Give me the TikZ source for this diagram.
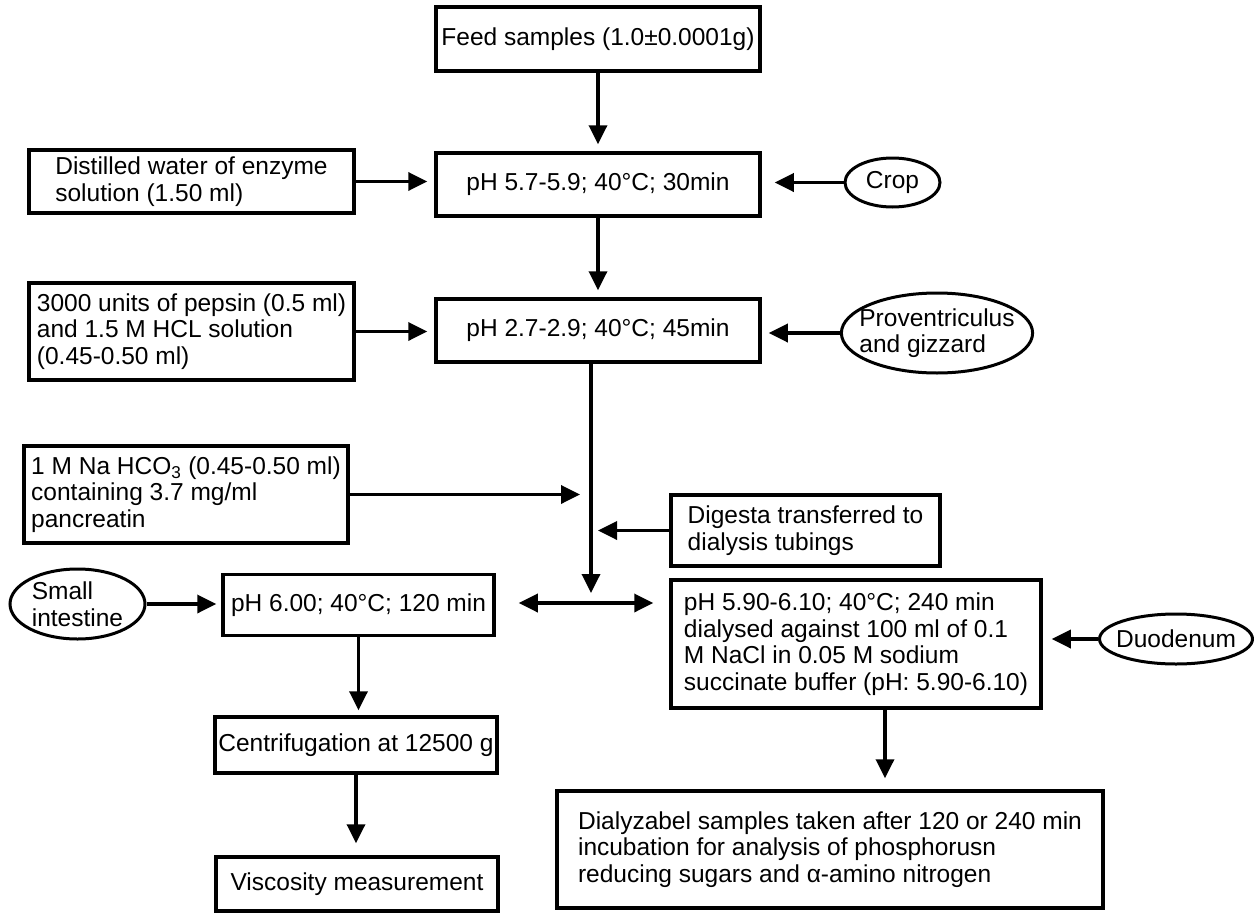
\documentclass[tikz,border=0pt]{standalone}
\usepackage{fontspec}
\setmainfont{Liberation Sans}
\usetikzlibrary{arrows.meta,calc,shapes.geometric,positioning}

\begin{document}
\begin{tikzpicture}[x=1pt,y=-1pt,
    >={Triangle[length=19pt,width=18pt]},
    proc/.style={draw, line width=3.5pt, inner sep=0pt, align=left},
    organ/.style={draw, ellipse, line width=3pt, inner xsep=-10pt, inner ysep=0pt, align=left},
    flow/.style={->, line width=3.5pt, shorten >=7pt}]
    \useasboundingbox (0,0) rectangle (1254,913);
    {\fontsize{24.5}{26.5}\selectfont
      \node(feed) at (598,39) [proc, minimum width=324pt, minimum height=64pt] {Feed samples (1.0±0.0001g)};

      \node(s1) at (598,184.5) [proc, minimum width=324pt, minimum height=63pt] {pH 5.7-5.9; 40°C; 30min};
      \node(s2) at (598,330.5) [proc, minimum width=324pt, minimum height=63pt] {pH 2.7-2.9; 40°C; 45min};

      \node(water) at (191.5,181.5) [proc, minimum width=325pt, minimum height=63pt] {Distilled water of enzyme\\solution (1.50 ml)};
      \node(pepsin) at (191.5,331.5) [proc, minimum width=325pt, minimum height=97pt] {3000 units of pepsin (0.5 ml)\\and 1.5 M HCL solution\\(0.45-0.50 ml)};
      \node(bicarb) at (186,494.5) [proc, minimum width=324pt, minimum height=97pt] {1 M Na HCO\textsubscript{3} (0.45-0.50 ml)\\containing 3.7 mg/ml\\pancreatin};

      \node(crop) at (892.5,182.5) [organ, minimum width=95pt, minimum height=49pt] {Crop};
      \node(prov) at (937,333) [organ, minimum width=190pt, minimum height=80pt] {Proventriculus\\and gizzard};

      \node(digesta) at (805.5,530.5) [proc, minimum width=269pt, minimum height=71pt] {Digesta transferred to\\dialysis tubings};

      \node(si) at (77.5,604) [organ, minimum width=135pt, minimum height=70pt] {Small\\intestine};
      \node(ph6) at (358.5,605) [proc, minimum width=271pt, minimum height=61pt] {pH 6.00; 40°C; 120 min};
      \node(dial) at (856,644) [proc, minimum width=370pt, minimum height=128pt] {pH 5.90-6.10; 40°C; 240 min\\dialysed against 100 ml of 0.1\\M NaCl in 0.05 M sodium\\succinate buffer (pH: 5.90-6.10)};
      \node(duod) at (1176,639) [organ, minimum width=153pt, minimum height=50pt] {Duodenum};

      \node(cent) at (356,745) [proc, minimum width=282pt, minimum height=56pt] {Centrifugation at 12500 g};
      \node(visc) at (357,884) [proc, minimum width=282pt, minimum height=54pt] {Viscosity measurement};
      \node(samp) at (830,849.5) [proc, minimum width=546pt, minimum height=117pt] {Dialyzabel samples taken after 120 or 240 min\\incubation for analysis of phosphorusn\\reducing sugars and α-amino nitrogen};

      \coordinate (split) at ($(s2.south)+(-7,0)$);
      \coordinate (join) at ($(split |- ph6.east)+(0,-12)$);
      \coordinate (out) at ($(dial.south)+(29,0)$);

      \draw (feed.south) edge[flow] (s1.north);
      \draw (s1.south) edge[flow] (s2.north);
      \draw (water.east) edge[flow] (water.east -| s1.west);
      \draw (crop.west) edge[flow, shorten >=13pt] (crop.west -| s1.east);
      \draw (pepsin.east) edge[flow] (pepsin.east -| s2.west);
      \draw (prov.west) edge[flow] (prov.west -| s2.east);

      \draw[->, line width=3.5pt] (split) -- (join);
      \draw (bicarb.east) edge[flow, shorten >=11pt] (split |- bicarb.east);
      \draw (digesta.west) edge[flow] (split |- digesta.west);

      \draw (si.east) edge[flow, shorten >=5pt] (si.east -| ph6.west);
      \draw[<->, line width=3.5pt] ($(ph6.east)+(23,-2)$) -- ($(ph6.east -| dial.west)+(-16,-2)$);
      \draw (duod.west) edge[flow, shorten >=9pt] (duod.west -| dial.east);

      \draw (ph6.south) edge[flow, shorten >=5pt] (ph6.south |- cent.north);
      \draw (cent.south) edge[flow, shorten >=12pt] (cent.south |- visc.north);
      \draw (out) edge[flow, shorten >=11pt] (out |- samp.north);
    }
\end{tikzpicture}
\end{document}
